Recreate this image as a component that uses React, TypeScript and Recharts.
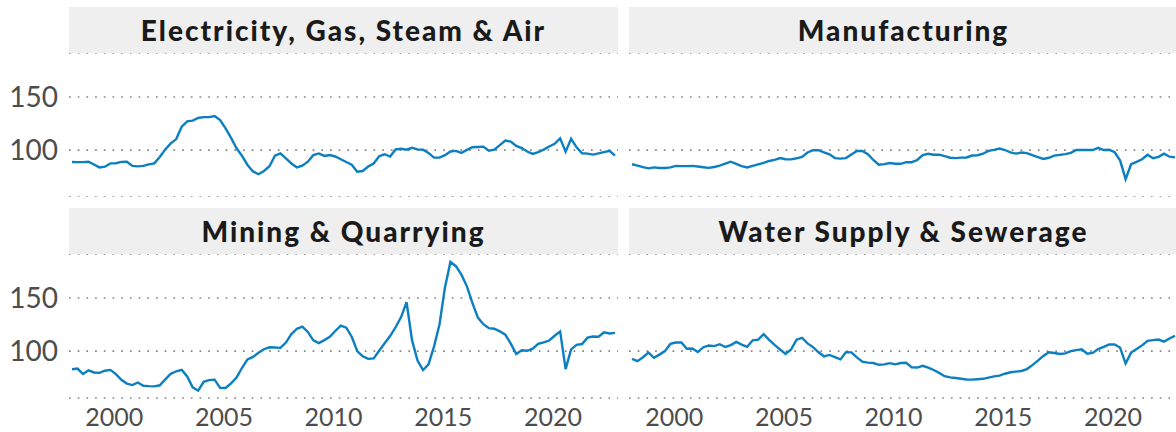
import { LineChart, Line, XAxis, YAxis, CartesianGrid } from 'recharts'

// quarterly index values (one value per quarter)
const electricity = [
  88.7, 88.6, 88.6, 89, 86.3, 83.6, 84.3, 87.4, 87.5, 88.8,
  89, 85, 84.6, 85, 86.5, 87.4, 93.4, 100.6, 106.3, 110.3,
  122, 127, 127.7, 130.2, 131, 131, 132, 128.3, 120.5, 111.4,
  101.6, 94.5, 85.9, 79.8, 77.2, 80.3, 84.7, 94.7, 96.8, 92.2,
  87.3, 83.6, 85.3, 89, 95.2, 96.8, 94.4, 95.3, 93.9, 91.3,
  88.7, 86.1, 79.6, 80.2, 84.4, 87.3, 94.2, 96, 93.8, 100.5,
  101.2, 100.3, 102.1, 100.6, 100.3, 97.3, 92.9, 92.8, 95.1, 98.6,
  99.2, 97.2, 100.1, 102.6, 102.9, 103.2, 99.4, 100.4, 104.6, 108.9,
  107.9, 103.9, 101.9, 98.6, 96.3, 98.1, 100.4, 103.3, 105.8, 111,
  98.4, 110.6, 102.5, 96.9, 96.6, 95.7, 96.8, 98.1, 99.3, 94.7,
]

const manufacturing = [
  86.6, 85.3, 83.8, 82.7, 83.6, 83, 83.1, 83.6, 85, 84.8,
  84.8, 85, 84.4, 83.8, 83.2, 84, 85.2, 87.1, 89, 87,
  84.8, 83.5, 85, 86.4, 87.8, 89.7, 90.7, 92.4, 91.3, 91.2,
  92.2, 93.5, 97.7, 99.8, 99.8, 97.9, 95.9, 92.4, 91.9, 92.4,
  95.8, 99.1, 99.2, 96.1, 90.6, 86.1, 86.7, 87.7, 87.1, 87,
  88.6, 88.5, 90.6, 95.3, 96.4, 95.6, 95.6, 94.3, 92.7, 92.4,
  92.8, 93, 94.8, 95.1, 96.5, 99.2, 100.2, 101.4, 100, 97.7,
  96.6, 97.7, 97.1, 95.1, 93.3, 91.6, 92.7, 94.7, 95.4, 96.1,
  97.3, 100, 100, 100, 100, 102, 100, 100.3, 97.9, 90,
  72.5, 86.6, 88.8, 91.3, 95.5, 92.3, 93.6, 96.6, 93.7, 93.1,
]

const mining = [
  82.8, 83.4, 78.3, 81.8, 79.8, 79.4, 81.4, 82.2, 78.2, 72.8,
  69.3, 67.9, 70.3, 67.3, 66.9, 66.7, 67.7, 73.3, 78.5, 80.9,
  82.2, 76, 65.7, 62.6, 71, 72.6, 73, 65.3, 65.2, 69.5,
  74.9, 84.2, 92.1, 94.4, 98.4, 101.7, 103.5, 103.3, 103, 108,
  116, 121, 122.9, 118, 110.1, 107.5, 110.3, 113.4, 118.9, 123.9,
  122, 113.5, 100, 95, 92.6, 93, 100.2, 107.4, 114.1, 122.4,
  132, 146, 110, 91, 82, 87.4, 104.2, 125, 160, 184,
  180, 172, 161, 145.4, 131.5, 125.3, 121.6, 121, 118.6, 115.4,
  106.9, 97.1, 100.7, 100.2, 102.2, 106.7, 108.1, 109.9, 114.4, 118.5,
  83, 101.5, 105.9, 106.6, 112.6, 113.7, 113.5, 117.7, 116.6, 117.1,
]

const water = [
  92.5, 90.4, 94.1, 98.5, 93.6, 96.6, 99.9, 106.7, 108, 108.1,
  102.2, 102.4, 99, 103.6, 105.2, 104.6, 106.4, 103.8, 105.6, 108.6,
  106.1, 103.9, 110.1, 110.7, 115.9, 110.6, 105.8, 101.4, 97.3, 101.4,
  110.7, 112.5, 107.2, 103.7, 98.8, 95, 96.3, 94.2, 92.1, 98.8,
  98.7, 94, 90, 89.1, 88.7, 87, 87.4, 88.6, 87.4, 88.7,
  88.9, 84.6, 84.4, 86.1, 84.3, 82.1, 79.4, 76.3, 75.1, 74.5,
  73.9, 73.2, 73, 73.4, 73.8, 74.9, 76.1, 76.8, 78.6, 80,
  80.6, 81.2, 83, 86.7, 90.9, 95.4, 98.8, 98.1, 97.2, 97.8,
  99.9, 100.9, 101.6, 97.5, 98.2, 101.8, 103.9, 106.2, 106.3, 103,
  88.2, 98.5, 101.9, 105.3, 109.6, 110.3, 110.8, 108.9, 111.8, 114.4,
]

// tick labels every 5 years (20 quarters apart)
const yearLabels = ['2000', '2005', '2010', '2015', '2020']
const yearTicks = yearLabels.map((_, k) => 7.7 + 20 * k)

const BLUE = '#0c7fc0'
const PLOT_W = 549
const PLOT_H = 144
const STRIP_H = 46
const Y_AXIS_W = 69
const X_AXIS_H = 35

interface PanelProps {
  title: string
  values: number[]
  left: number
  top: number
  showY: boolean
  showX: boolean
}

const Panel = ({ title, values, left, top, showY, showX }: PanelProps) => {
  const data = values.map((v, i) => ({ i, v }))
  const chartLeft = showY ? left - Y_AXIS_W : left
  const chartW = PLOT_W + (showY ? Y_AXIS_W : 0)
  const chartH = PLOT_H + (showX ? X_AXIS_H : 0)

  return (
    <>
      <div
        style={{
          position: 'absolute',
          left,
          top,
          width: PLOT_W,
          height: STRIP_H,
          background: '#efefef',
          display: 'flex',
          alignItems: 'center',
          justifyContent: 'center',
          fontFamily: 'Lato, sans-serif',
          fontWeight: 900,
          fontSize: 28,
          letterSpacing: 2,
          color: '#1a1a1a',
        }}
      >
        {title}
      </div>
      <div style={{ position: 'absolute', left: chartLeft, top: top + STRIP_H }}>
        <LineChart width={chartW} height={chartH} data={data} margin={{ top: 0, right: 0, bottom: 0, left: 0 }}>
          <CartesianGrid vertical={false} stroke="#858585" strokeWidth={1.7} strokeDasharray="1.7 7" />
          <XAxis
            type="number"
            dataKey="i"
            domain={[-0.55, 99.55]}
            ticks={yearTicks}
            interval={0}
            tickFormatter={(t: number) => yearLabels[yearTicks.indexOf(t)]}
            hide={!showX}
            height={X_AXIS_H}
            axisLine={false}
            tickLine={false}
            tickSize={0}
            tickMargin={10}
            tick={{ fill: '#4d4d4d', fontSize: 25, fontFamily: 'Lato, sans-serif' }}
          />
          <YAxis
            type="number"
            domain={[55.7, 191.5]}
            ticks={[100, 150]}
            allowDataOverflow
            hide={!showY}
            width={Y_AXIS_W}
            axisLine={false}
            tickLine={false}
            tickSize={0}
            tickMargin={11}
            tick={{ fill: '#4d4d4d', fontSize: 28, fontFamily: 'Lato, sans-serif' }}
          />
          <Line type="linear" dataKey="v" stroke={BLUE} strokeWidth={2.4} dot={false} isAnimationActive={false} />
        </LineChart>
      </div>
    </>
  )
}

export default function App() {
  return (
    <div
      style={{
        position: 'absolute',
        left: 0,
        top: 0,
        width: 1176,
        height: 432,
        overflow: 'hidden',
        background: '#fff',
      }}
    >
      <Panel title="Electricity, Gas, Steam & Air" values={electricity} left={69} top={7} showY showX={false} />
      <Panel title="Manufacturing" values={manufacturing} left={629} top={7} showY={false} showX={false} />
      <Panel title="Mining & Quarrying" values={mining} left={69} top={208} showY showX />
      <Panel title="Water Supply & Sewerage" values={water} left={629} top={208} showY={false} showX />
    </div>
  )
}
